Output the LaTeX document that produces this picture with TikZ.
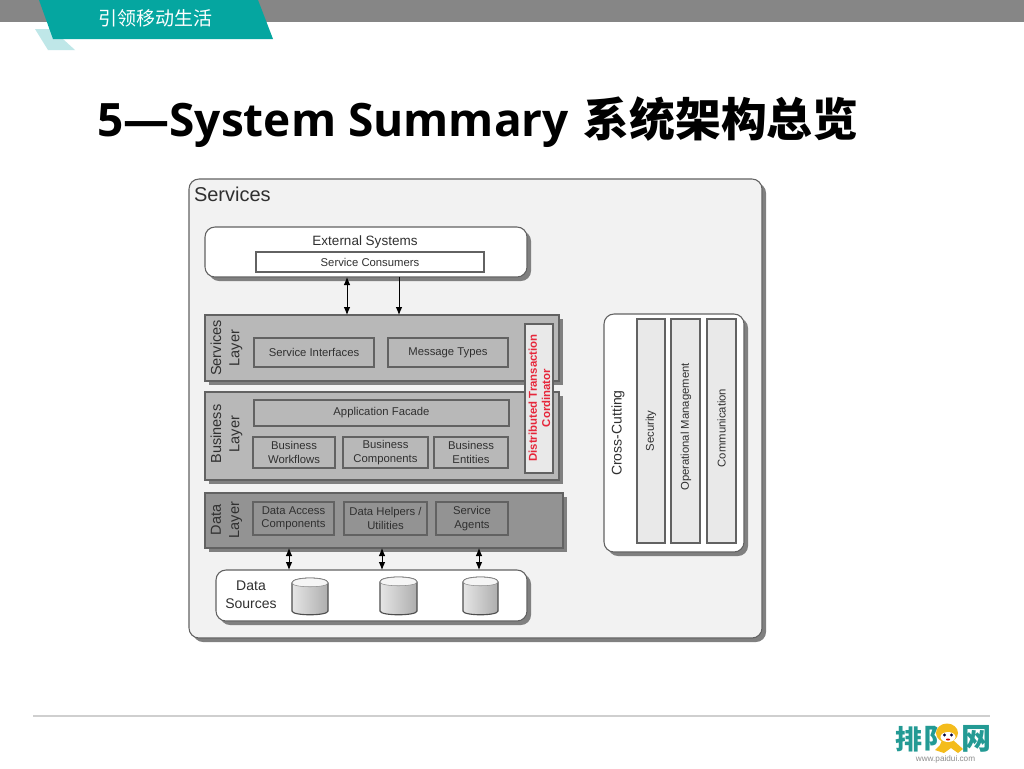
\documentclass[tikz,border=0pt]{standalone}
\usepackage{fontspec}
\usetikzlibrary{shadows,arrows.meta}
\setmainfont{Liberation Sans}
\newfontfamily\titlefont{Open Sans}
\newfontfamily\cjk{Noto Sans CJK SC}
\definecolor{barg}{HTML}{868686}
\definecolor{teal1}{HTML}{05A6A0}
\definecolor{teal2}{HTML}{BFE7E8}
\definecolor{logo}{HTML}{239A94}
\definecolor{panel}{HTML}{F2F2F2}
\definecolor{edge}{HTML}{626262}
\definecolor{shad}{HTML}{808080}
\definecolor{lay}{HTML}{B8B8B8}
\definecolor{layd}{HTML}{939393}
\definecolor{strip}{HTML}{E9E9E9}
\definecolor{ink}{HTML}{303030}
\definecolor{foot}{HTML}{CFCFCF}
\definecolor{dist}{HTML}{E6263A}
\definecolor{monk}{HTML}{F4BC1C}
\newcommand{\pxfont}[1]{\fontsize{\dimexpr #1pt*3/4\relax}{\dimexpr #1pt*7/8\relax}\selectfont}
\tikzset{
  x=0.75pt,y=-0.75pt,
  box/.style={draw=edge,line width=0.8pt,inner sep=0pt,outer sep=0pt,align=center,text=ink,font=\pxfont{11.3}},
  shade3/.style={drop shadow={shadow xshift=3pt,shadow yshift=-3pt,fill=shad,opacity=1}},
  rnd/.style={rounded corners=7.5pt},
  layer/.style={box,fill=lay,shade3},
  inner/.style={box,fill=lay},
  whitebox/.style={box,fill=white,rnd,shade3},
  stripbox/.style={box,fill=strip},
  lab/.style={inner sep=0pt,outer sep=0pt,align=center,text=ink},
  arr/.style={draw=black,line width=0.75pt,-{Latex[length=6pt,width=5pt]}},
  biarr/.style={draw=black,line width=0.75pt,{Latex[length=6pt,width=5pt]}-{Latex[length=6pt,width=5pt]}},
}
\newcommand{\bx}[7][]{%
  \pgfmathsetmacro{\cxx}{(#3+#5)/2}\pgfmathsetmacro{\cyy}{(#4+#6)/2}%
  \pgfmathsetmacro{\wdd}{(#5-#3)*0.75}\pgfmathsetmacro{\htt}{(#6-#4)*0.75}%
  \node[#1,minimum width=\wdd pt,minimum height=\htt pt] (#2) at (\cxx,\cyy) {#7};}
\newcommand{\cyl}[4]{%
  \pgfmathsetmacro{\topc}{#2+5}\pgfmathsetmacro{\botc}{#4-4}%
  \path[draw=edge!80!black,line width=0.85pt,left color=black!10,right color=black!32]
    (#1,\topc) -- (#1,\botc) .. controls (#1,#4+1) and (#3,#4+1) .. (#3,\botc)
    -- (#3,\topc) .. controls (#3,#2-1.5) and (#1,#2-1.5) .. (#1,\topc) -- cycle;
  \path[fill=black!4,draw=black!45,line width=0.4pt]
    (#1,\topc) .. controls (#1,#2-1.5) and (#3,#2-1.5) .. (#3,\topc)
    .. controls (#3,#2+10) and (#1,#2+10) .. (#1,\topc) -- cycle;}
\begin{document}
\begin{tikzpicture}
\useasboundingbox (0,0) rectangle (1024,768);
\fill[white] (0,0) rectangle (1024,768);
% header
\fill[barg] (0,0) rectangle (1024,22);
\fill[teal2] (35,29) -- (52,29) -- (75,50) -- (48,50) -- cycle;
\fill[teal1] (39,0) -- (258,0) -- (273,39) -- (53,39) -- cycle;
\node[inner sep=0pt,text=white] (tag) at (155.5,18.5) {\cjk\pxfont{19}引领移动生活};
\node[inner sep=0pt,anchor=base west,text=black] (title) at (97,136)
  {\titlefont\bfseries\pxfont{46}5—System Summary\hspace{2.2pt} \cjk\bfseries\pxfont{45.8}系统架构总览};
% panel
\bx[box,fill=panel,rnd,shade3]{svc}{189}{179}{762}{638}{}
\node[lab,anchor=base west,font=\pxfont{20}] (svct) at (194,201) {Services};
% external
\bx[whitebox]{ext}{205}{227}{527}{277}{}
\node[lab,font=\pxfont{13.5}] (extt) at (365,242) {External Systems};
\bx[box,fill=white]{cons}{256}{252}{484}{272}{Service Consumers}
% services layer
\bx[layer]{sl}{205}{315}{559}{381}{}
\node[lab,rotate=90,font=\pxfont{14.5}] (slt) at (226.5,348) {Services\\[1pt]Layer};
\bx[inner]{si}{254}{338}{374}{367}{Service Interfaces}
\bx[inner]{mt}{388}{338}{508}{367}{Message Types}
% business layer
\bx[layer]{bl}{205}{392}{559}{480}{}
\node[lab,rotate=90,font=\pxfont{14.5}] (blt) at (226.5,434) {Business\\[1pt]Layer};
\bx[inner]{af}{254}{400}{509}{426}{Application Facade}
\bx[inner]{bw}{253}{437}{335}{468}{Business\\Workflows}
\bx[inner]{bc}{343}{437}{428}{468}{Business\\Components}
\bx[inner]{be}{434}{437}{508}{468}{Business\\Entities}
% distributed
\bx[box,fill=strip]{dt}{525}{324}{553}{473}{}
\node[lab,rotate=90,text=dist,font=\bfseries\pxfont{11.4}] (dtt) at (539.5,398) {Distributed Transaction\\[0pt]Cordinator};
% data layer
\bx[box,fill=layd,shade3]{dl}{205}{493}{563}{548}{}
\node[lab,rotate=90,font=\pxfont{14.5}] (dlt) at (226.5,520) {Data\\[1pt]Layer};
\bx[box,fill=layd]{da}{253}{502}{334}{535}{Data Access\\Components}
\bx[box,fill=layd]{dh}{344}{502}{427}{535}{Data Helpers /\\Utilities}
\bx[box,fill=layd]{sa}{436}{502}{508}{535}{Service\\Agents}
% data sources
\bx[whitebox]{ds}{216}{570}{527}{621}{}
\node[lab,font=\pxfont{14}] (dst) at (251,594.5) {Data\\[1pt]Sources};
\cyl{292}{578}{328}{615}
\cyl{380}{577}{417}{615}
\cyl{463}{577}{498}{615}
% cross-cutting
\bx[whitebox]{cc}{604}{314}{744}{552}{}
\node[lab,rotate=90,font=\pxfont{14}] (cct) at (618,433) {Cross-Cutting};
\bx[stripbox]{sec}{637}{319}{665}{543}{}
\bx[stripbox]{op}{671}{319}{700}{543}{}
\bx[stripbox]{com}{707}{319}{736}{543}{}
\node[lab,rotate=90,font=\pxfont{11.3}] (sect) at (651,431) {Security};
\node[lab,rotate=90,font=\pxfont{11.3}] (opt) at (686,427) {Operational Management};
\node[lab,rotate=90,font=\pxfont{11.3}] (comt) at (721.5,428) {Communication};
% connectors
\coordinate (a1) at (347,300); \coordinate (a2) at (399,300);
\coordinate (a3) at (289,560); \coordinate (a4) at (382,560); \coordinate (a5) at (479,560);
\draw[biarr] (ext.south -| a1) -- (sl.north -| a1);
\draw[arr] (ext.south -| a2) -- (sl.north -| a2);
\draw[biarr] (dl.south -| a3) -- (ds.north -| a3);
\draw[biarr] (dl.south -| a4) -- (ds.north -| a4);
\draw[biarr] (dl.south -| a5) -- (ds.north -| a5);
% footer
\coordinate (fa) at (33,716); \coordinate (fb) at (990,716);
\draw[foot,line width=0.9pt] (fa) -- (fb);
\node[inner sep=0pt,text=logo] (lg1) at (909,739) {\cjk\bfseries\pxfont{27}排};
\node[inner sep=0pt,text=logo] (lg2) at (937,739) {\cjk\bfseries\pxfont{27}阝};
\node[inner sep=0pt,text=logo] (lg3) at (976,739) {\cjk\bfseries\pxfont{30}网};
% monkey
\fill[monk] (942,740) -- (953,740) -- (963,749) -- (958,753) -- (951,748) -- (944,753) -- (935,750) -- (940,745) -- cycle;
\fill[monk] (947,733) ellipse [x radius=11,y radius=9.5];
\fill[white] (948,737) ellipse [x radius=7.5,y radius=5];
\fill[black!75!blue] (944.5,735) circle [radius=1.7] (951.5,735) circle [radius=1.7];
\fill[red!80!black] (948,739.5) ellipse [x radius=2,y radius=1];
\node[inner sep=0pt,text=black!45,font=\pxfont{8.2}] (url) at (945.5,759) {www.paidui.com};
\end{tikzpicture}
\end{document}
